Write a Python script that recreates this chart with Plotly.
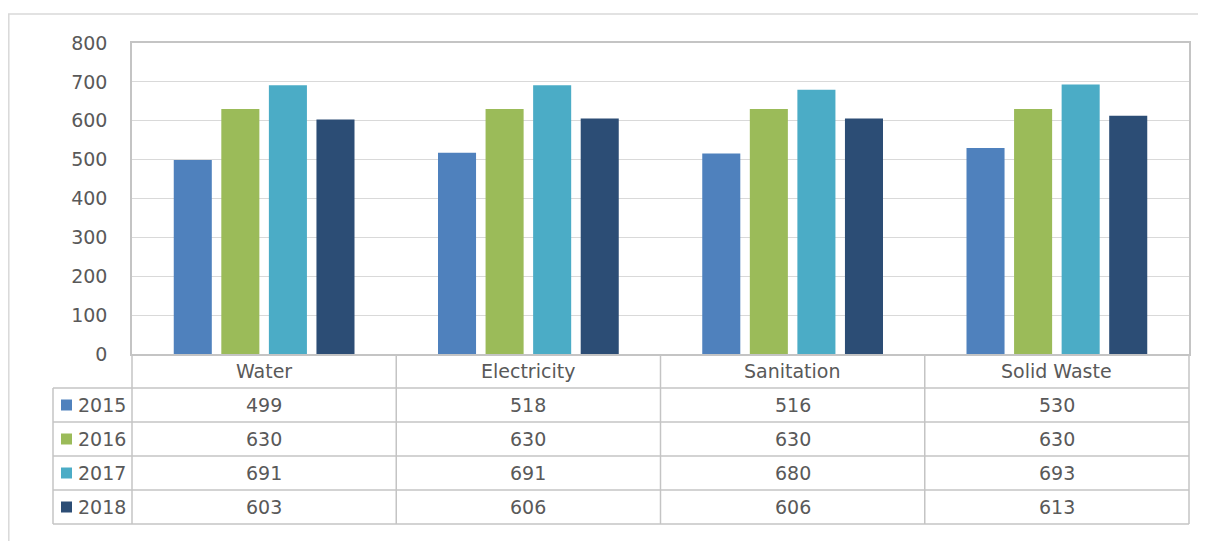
import plotly.graph_objects as go

categories = ["Water", "Electricity", "Sanitation", "Solid Waste"]
years = ["2015", "2016", "2017", "2018"]
values_2015 = [499, 518, 516, 530]
values_2016 = [630, 630, 630, 630]
values_2017 = [691, 691, 680, 693]
values_2018 = [603, 606, 606, 613]
series = [values_2015, values_2016, values_2017, values_2018]
colors = ["#4F81BD", "#9BBB59", "#4BACC6", "#2C4D75"]
y_ticks = [0, 100, 200, 300, 400, 500, 600, 700, 800]

FONT = "DejaVu Sans"
TXT = "#595959"
LINE = "#C4C4C4"

# page body has an 8px margin; figure is placed at (8, 8) in the window
OFF = 8
W, H = 1206 - OFF, 541 - OFF
# plot area in window pixels
L, R, T, B = 132, 1189, 43, 354


def px_x(px):
    return (px - L) / (R - L)


def px_y(py):
    return (B - py) / (B - T)


fig = go.Figure()
for name, vals, col in zip(years, series, colors):
    fig.add_trace(go.Bar(x=categories, y=vals, name=name, marker=dict(color=col, line=dict(width=0)),
                         showlegend=False))

shapes = []
annotations = []

# outer chart border (cropped on right/bottom)
shapes.append(dict(type="line", xref="paper", yref="paper", x0=px_x(8.8), x1=px_x(8.8), y0=px_y(545), y1=px_y(14),
                   line=dict(color="#D9D9D9", width=1.5)))
shapes.append(dict(type="line", xref="paper", yref="paper", x0=px_x(8), x1=px_x(1210), y0=px_y(14), y1=px_y(14),
                   line=dict(color="#D9D9D9", width=1.5)))

# table geometry
header_top, header_bot = 354, 388
row_h = 34
rows_top = header_bot
table_bot = rows_top + row_h * len(years)
legend_left = 53
ncat = len(categories)

# horizontal lines
shapes.append(dict(type="line", xref="paper", yref="paper", x0=px_x(legend_left), x1=1,
                   y0=px_y(rows_top), y1=px_y(rows_top), line=dict(color=LINE, width=1.5)))
for i in range(1, len(years) + 1):
    yy = rows_top + i * row_h
    shapes.append(dict(type="line", xref="paper", yref="paper", x0=px_x(legend_left), x1=1,
                       y0=px_y(yy), y1=px_y(yy), line=dict(color=LINE, width=1.5)))
# vertical lines
for k in range(ncat + 1):
    shapes.append(dict(type="line", xref="paper", yref="paper", x0=k / ncat, x1=k / ncat,
                       y0=px_y(header_top), y1=px_y(table_bot), line=dict(color=LINE, width=1.5)))
shapes.append(dict(type="line", xref="paper", yref="paper", x0=px_x(legend_left), x1=px_x(legend_left),
                   y0=px_y(rows_top), y1=px_y(table_bot), line=dict(color=LINE, width=1.5)))

# header labels
for c in categories:
    annotations.append(dict(x=c, xref="x", y=px_y((header_top + header_bot) / 2), yref="paper",
                            text=c, showarrow=False, xanchor="center", yanchor="middle",
                            font=dict(family=FONT, size=19, color=TXT)))

# rows
for r, (yr, vals, col) in enumerate(zip(years, series, colors)):
    cy = rows_top + r * row_h + row_h / 2
    shapes.append(dict(type="rect", xref="paper", yref="paper", x0=px_x(61), x1=px_x(72),
                       y0=px_y(cy - 5.5), y1=px_y(cy + 5.5), fillcolor=col, line=dict(width=0)))
    annotations.append(dict(x=px_x(76), xref="paper", y=px_y(cy), yref="paper", text=yr, showarrow=False,
                            xanchor="left", yanchor="middle", font=dict(family=FONT, size=19, color=TXT)))
    for c, v in zip(categories, vals):
        annotations.append(dict(x=c, xref="x", y=px_y(cy), yref="paper", text=str(v), showarrow=False,
                                xanchor="center", yanchor="middle",
                                font=dict(family=FONT, size=19, color=TXT)))

fig.update_layout(
    width=W, height=H,
    margin=dict(l=L - OFF, r=(W + OFF) - R, t=T - OFF, b=(H + OFF) - B, pad=0),
    paper_bgcolor="white", plot_bgcolor="white",
    barmode="group", bargap=0.28, bargroupgap=0.2,
    shapes=shapes, annotations=annotations,
    font=dict(family=FONT, color=TXT),
)
fig.update_xaxes(showticklabels=False, showgrid=False, showline=True, linecolor=LINE, linewidth=1.5,
                 mirror=True, ticks="", zeroline=False)
fig.update_yaxes(range=[0, 800], tickvals=y_ticks, showgrid=True, gridcolor="#D9D9D9", gridwidth=1,
                 showline=True, linecolor=LINE, linewidth=1.5, mirror=True, ticks="", zeroline=False,
                 ticklabelstandoff=19, tickfont=dict(family=FONT, size=19, color=TXT))

fig.write_html("out.html")
